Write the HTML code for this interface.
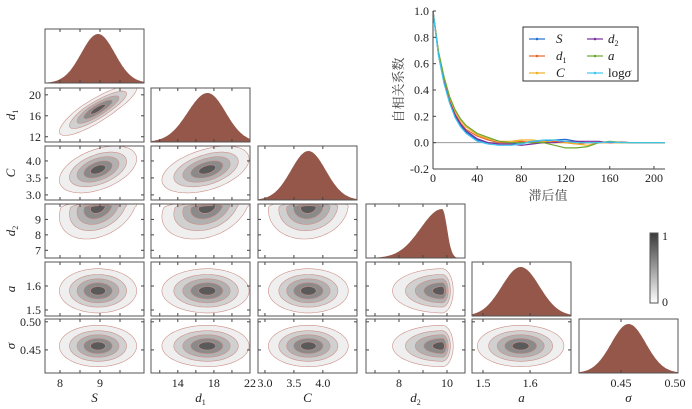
<!DOCTYPE html>
<html><head><meta charset="utf-8">
<style>
html,body{margin:0;padding:0;background:#fff;}
svg{display:block;}
svg text{font-family:"Liberation Serif","Noto Serif CJK SC",serif;}
</style></head>
<body>
<svg id="fig" width="692" height="409" viewBox="0 0 692 409" xmlns="http://www.w3.org/2000/svg"></svg>
<script>
// ---- parameter data ----
const paramNames = ["S","d1","C","d2","a","sigma"];
const paramMeans = [8.95, 17.3, 3.75, 9.8, 1.58, 0.457];
const paramSdLeft = [0.42, 2.2, 0.3, 0.9, 0.04, 0.016];
const paramSdRight = [0.42, 2.0, 0.3, 0.2, 0.04, 0.016];
const xRangeLo = [7.625, 11.03, 2.88, 6.625, 1.4766, 0.4111];
const xRangeHi = [10.1, 22.0, 4.59, 10.75, 1.687, 0.5028];
const yRangeLo = [7.625, 11.0, 2.85, 6.5, 1.475, 0.409];
const yRangeHi = [10.1, 21.3, 4.44, 10.0, 1.70, 0.505];
const xTicks = [[8,9],[14,18,22],[3.0,3.5,4.0],[8,10],[1.5,1.6],[0.45,0.50]];
const xTickMinor = [[8,8.5,9,9.5],[12,14,16,18,20],[3.0,3.5,4.0],[7,8,9,10],[1.5,1.6],[0.45]];
const xTickLabels = [["8","9"],["14","18","22"],["3.0","3.5","4.0"],["8","10"],["1.5","1.6"],["0.45","0.50"]];
const yTicks = [[],[12,16,20],[3.0,3.5,4.0],[7,8,9],[1.5,1.6],[0.45,0.50]];
const yTickLabels = [[],["12","16","20"],["3.0","3.5","4.0"],["7","8","9"],["1.5","1.6"],["0.45","0.50"]];
const corrPairs = [[0,1,0.85],[0,2,0.45],[1,2,0.45],[0,3,0.3],[1,3,0.3],[2,3,0.1]];
const contourLevels = [2.3, 1.7, 1.25, 0.85, 0.45];
const contourFills = ["#efefef","#d0d0d0","#b0b0b0","#8a8a8a","#5a5a5a"];

// ---- ACF data ----
const acfLags = [0,5,10,15,20,25,30,40,50,60,70,80,90,100,110,120,130,140,150,160,170,180,190,200,210];
const acfS =    [1,0.67,0.46,0.31,0.20,0.13,0.08,0.02,0.00,-0.01,-0.01,0.00,0.01,0.01,0.02,0.025,0.01,0.00,0.00,0.005,0.003,0,0,0,0];
const acfD1 =   [1,0.68,0.48,0.33,0.22,0.15,0.10,0.05,0.02,0.00,0.00,0.01,0.00,0.00,0.01,0.00,-0.01,0.00,0.00,0.00,0.002,0,0,0,0];
const acfC =    [1,0.69,0.49,0.34,0.24,0.17,0.12,0.06,0.03,0.01,0.01,0.02,0.02,0.01,0.00,0.00,-0.01,-0.02,0.00,0.00,-0.002,0,0,0,0];
const acfD2 =   [1,0.67,0.46,0.31,0.21,0.14,0.09,0.03,0.00,-0.01,-0.01,-0.02,-0.01,0.00,0.00,0.01,0.01,0.01,0.01,0.00,0.004,0,0,0,0];
const acfA =    [1,0.69,0.50,0.35,0.25,0.18,0.13,0.07,0.04,0.01,0.00,0.00,0.00,0.00,-0.02,-0.04,-0.04,-0.03,0.00,0.01,0.003,0,0,0,0];
const acfLogS = [1,0.66,0.45,0.30,0.19,0.12,0.07,0.01,-0.01,-0.02,-0.02,-0.01,0.01,0.02,0.02,0.01,0.00,0.00,0,0.005,0,0,0,0,0];
const acfSeries = [acfS, acfD1, acfC, acfD2, acfA, acfLogS];
const acfColors = ["#1f6fd0","#e8662a","#f0b020","#7b2f9e","#6aa832","#3ec6f0"];
const acfYTicks = [1.0,0.8,0.6,0.4,0.2,0.0,-0.2];
const acfYTickLabels = ["1.0","0.8","0.6","0.4","0.2","0.0","-0.2"];
const acfXTicks = [0,40,80,120,160,200];

const NS = "http://www.w3.org/2000/svg";
const svg = document.getElementById("fig");
function mk(tag, attrs, parent){
  const e = document.createElementNS(NS, tag);
  for (const k in attrs) e.setAttribute(k, attrs[k]);
  (parent||svg).appendChild(e);
  return e;
}
const colX = [45,151,258,366,472,579];
const rowY = [29,88,146,204,262,319];
const PW = 99, PH = 54;
function sx(p, v, c){ return colX[c] + (v - xRangeLo[p])/(xRangeHi[p]-xRangeLo[p])*PW; }
function sy(p, v, r){ return rowY[r] + PH - (v - yRangeLo[p])/(yRangeHi[p]-yRangeLo[p])*PH; }
function fromStd(p, u){ return paramMeans[p] + u*(u<0?paramSdLeft[p]:paramSdRight[p]); }
function getRho(i,j){ for(const c of corrPairs){ if((c[0]===i&&c[1]===j)||(c[0]===j&&c[1]===i)) return c[2]; } return 0; }

const defs = mk("defs",{});
for (let r=0;r<6;r++){
  for (let c=0;c<=r;c++){
    const cp = mk("clipPath",{id:"clip"+r+"_"+c}, defs);
    mk("rect",{x:colX[c],y:rowY[r],width:PW,height:PH}, cp);
  }
}
const grad = mk("linearGradient",{id:"cbgrad",x1:0,y1:1,x2:0,y2:0}, defs);
mk("stop",{offset:"0","stop-color":"#ffffff"}, grad);
mk("stop",{offset:"1","stop-color":"#3a3a3a"}, grad);

for (let r=0;r<6;r++){
  for (let c=0;c<=r;c++){
    const g = mk("g",{"clip-path":"url(#clip"+r+"_"+c+")"});
    
    
    if (r===c){
      const p = c;
      let pts = [];
      const N = 120;
      for (let k=0;k<=N;k++){
        const v = xRangeLo[p] + (xRangeHi[p]-xRangeLo[p])*k/N;
        const s = v<paramMeans[p]?paramSdLeft[p]:paramSdRight[p];
        const z = (v-paramMeans[p])/s;
        const d = Math.exp(-0.5*z*z);
        pts.push([sx(p,v,c), rowY[r]+PH - d*(PH-5)]);
      }
      let dstr = "M"+colX[c]+","+(rowY[r]+PH);
      for (const q of pts) dstr += "L"+q[0].toFixed(1)+","+q[1].toFixed(1);
      dstr += "L"+(colX[c]+PW)+","+(rowY[r]+PH)+"Z";
      mk("path",{d:dstr,fill:"#955749"}, g);
    } else {
      const px = c, py = r;
      const rho = getRho(px,py);
      for (let L=0; L<contourLevels.length; L++){
        const rad = contourLevels[L];
        let dstr = "";
        const N = 90;
        for (let k=0;k<=N;k++){
          const t = 2*Math.PI*k/N;
          const u = rad*Math.cos(t);
          const v = rad*(rho*Math.cos(t) + Math.sqrt(1-rho*rho)*Math.sin(t));
          const X = sx(px, fromStd(px,u), c), Y = sy(py, fromStd(py,v), r);
          dstr += (k===0?"M":"L")+X.toFixed(1)+","+Y.toFixed(1);
        }
        dstr += "Z";
        mk("path",{d:dstr,fill:contourFills[L],stroke:"#cc9088","stroke-width":0.6}, g);
      }
    }
    const fr = mk("rect",{x:colX[c],y:rowY[r],width:PW,height:PH,fill:"none",stroke:"#555","stroke-width":1});
    
    
    for (const t of xTickMinor[c]){
      const X = sx(c,t,c);
      if (X<colX[c]+1||X>colX[c]+PW-1) continue;
      mk("line",{x1:X,y1:rowY[r],x2:X,y2:rowY[r]+3,stroke:"#444","stroke-width":1});
      mk("line",{x1:X,y1:rowY[r]+PH,x2:X,y2:rowY[r]+PH-3,stroke:"#444","stroke-width":1});
    }
    if (r!==c){
      for (const t of yTicks[r]){
        const Y = sy(r,t,r);
        mk("line",{x1:colX[c],y1:Y,x2:colX[c]+3,y2:Y,stroke:"#444","stroke-width":1});
        mk("line",{x1:colX[c]+PW,y1:Y,x2:colX[c]+PW-3,y2:Y,stroke:"#444","stroke-width":1});
      }
    }
  }
}
const axisLabelHTML = ["S","d<tspan font-size='8' dy='3' font-style='normal'>1</tspan>","C","d<tspan font-size='8' dy='3' font-style='normal'>2</tspan>","a","σ"];
for (let c=0;c<6;c++){
  xTicks[c].forEach((t,i)=>{
    const tx = mk("text",{x:sx(c,t,c),y:387,"font-size":12,"text-anchor":"middle",fill:"#222"});
    tx.textContent = xTickLabels[c][i];
    
    
  });
  const lab = mk("text",{x:colX[c]+PW/2,y:402,"font-size":13,"text-anchor":"middle","font-style":"italic",fill:"#222"});
  lab.innerHTML = axisLabelHTML[c];
  
  
}
for (let r=1;r<6;r++){
  yTicks[r].forEach((t,i)=>{
    const tx = mk("text",{x:41,y:sy(r,t,r)+4,"font-size":12,"text-anchor":"end",fill:"#222"});
    tx.textContent = yTickLabels[r][i];
    
    
  });
  const cy = rowY[r]+PH/2;
  const lab = mk("text",{x:0,y:0,"font-size":13,"text-anchor":"middle","font-style":"italic",fill:"#222",transform:"translate(15,"+cy+") rotate(-90)"});
  lab.innerHTML = axisLabelHTML[r];
  
  
}

const cb = mk("rect",{x:650,y:233,width:8,height:70,fill:"url(#cbgrad)",stroke:"#555","stroke-width":1});


const cb1 = mk("text",{x:662,y:240,"font-size":12,fill:"#222"}); cb1.textContent="1";
 
const cb0 = mk("text",{x:662,y:306,"font-size":12,fill:"#222"}); cb0.textContent="0";
 

// ---- ACF chart ----
const AX0=433, AX1=665, AY0=11, AY1=169;
function ax(l){ return AX0 + l/210*(AX1-AX0); }
function ay(v){ return AY1 - (v+0.2)/1.2*(AY1-AY0); }
const acfG = mk("g",{});
 
mk("line",{x1:AX0,y1:ay(0),x2:AX1,y2:ay(0),stroke:"#999","stroke-width":1}, acfG);
acfSeries.forEach((s,si)=>{
  let d="";
  s.forEach((v,i)=>{ d += (i===0?"M":"L")+ax(acfLags[i]).toFixed(1)+","+ay(v).toFixed(1); });
  const p = mk("path",{d:d,fill:"none",stroke:acfColors[si],"stroke-width":1.2,"stroke-linejoin":"round"}, acfG);
  
  
});
mk("line",{x1:AX0,y1:AY0,x2:AX0,y2:AY1,stroke:"#444","stroke-width":1}, acfG);
mk("line",{x1:AX0,y1:AY1,x2:AX1,y2:AY1,stroke:"#444","stroke-width":1}, acfG);
acfYTicks.forEach((t,i)=>{
  mk("line",{x1:AX0,y1:ay(t),x2:AX0+3,y2:ay(t),stroke:"#444"}, acfG);
  const tx = mk("text",{x:AX0-4,y:ay(t)+4,"font-size":12,"text-anchor":"end",fill:"#222"}, acfG);
  tx.textContent = acfYTickLabels[i];
   
});
acfXTicks.forEach(t=>{
  mk("line",{x1:ax(t),y1:AY1,x2:ax(t),y2:AY1-3,stroke:"#444"}, acfG);
  const tx = mk("text",{x:ax(t),y:AY1+13,"font-size":12,"text-anchor":"middle",fill:"#222"}, acfG);
  tx.textContent = String(t);
   
});
const xt = mk("text",{x:548,y:200,"font-size":13,"text-anchor":"middle",fill:"#444"}, acfG);
xt.textContent="滞后值";  
const yt = mk("text",{x:0,y:0,"font-size":13,"text-anchor":"middle",fill:"#444",transform:"translate(403,90) rotate(-90)"}, acfG);
yt.textContent="自相关系数";  

const lg = mk("g",{});
 
mk("rect",{x:523,y:27,width:115,height:54,fill:"#fff",stroke:"#333","stroke-width":1}, lg);
const legendLabels = ["S","d<tspan font-size='8' dy='3' font-style='normal'>1</tspan>","C","d<tspan font-size='8' dy='3' font-style='normal'>2</tspan>","a","<tspan font-style='normal'>log</tspan>σ"];
const legendOrder = [0,1,2,3,4,5];
legendOrder.forEach((si,k)=>{
  const col = k<3?0:1, row = k%3;
  const lx = col===0?529:587, ly = 39+row*17;
  const e = mk("g",{}, lg);
  
  
  mk("line",{x1:lx,y1:ly,x2:lx+16,y2:ly,stroke:acfColors[si],"stroke-width":1.2}, e);
  mk("circle",{cx:lx+8,cy:ly,r:1.3,fill:acfColors[si]}, e);
  const t = mk("text",{x:col===0?556:608,y:ly+4,"font-size":13,"font-style":"italic",fill:"#222"}, e);
  t.innerHTML = legendLabels[si];
});
</script>
</body></html>
